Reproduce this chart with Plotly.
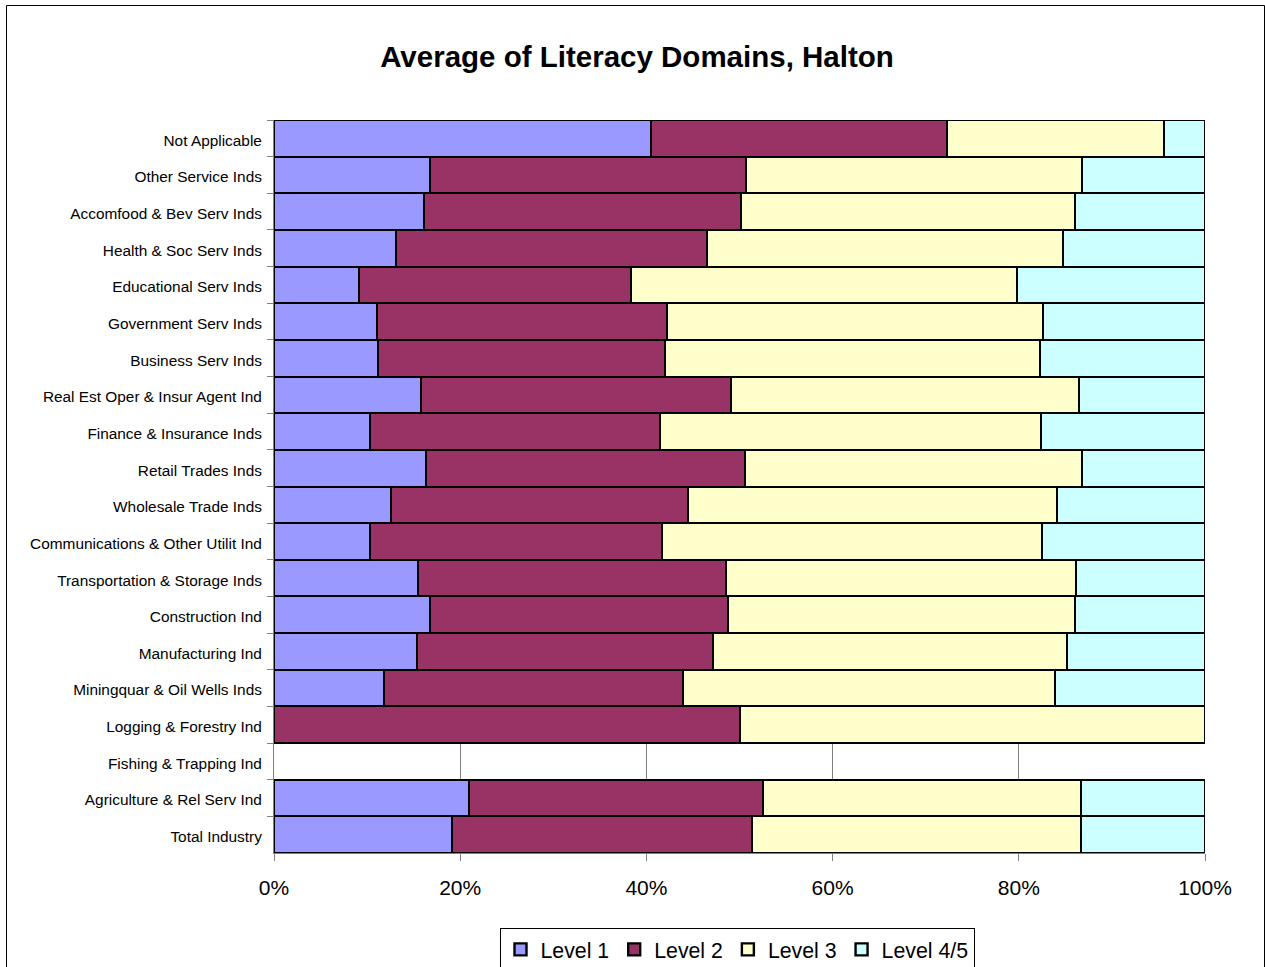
import plotly.graph_objects as go

# Industries, listed top to bottom
industries = [
    "Not Applicable", "Other Service Inds", "Accomfood & Bev Serv Inds",
    "Health & Soc Serv Inds", "Educational Serv Inds", "Government Serv Inds",
    "Business Serv Inds", "Real Est Oper & Insur Agent Ind", "Finance & Insurance Inds",
    "Retail Trades Inds", "Wholesale Trade Inds", "Communications & Other Utilit Ind",
    "Transportation & Storage Inds", "Construction Ind", "Manufacturing Ind",
    "Miningquar & Oil Wells Inds", "Logging & Forestry Ind", "Fishing & Trapping Ind",
    "Agriculture & Rel Serv Ind", "Total Industry",
]

# Share of each literacy level (%)
level1 = [40.5, 16.8, 16.1, 13.1, 9.1, 11.1, 11.2, 15.8, 10.3, 16.3,
          12.6, 10.3, 15.5, 16.8, 15.4, 11.8, None, None, 20.9, 19.1]
level2 = [31.8, 33.9, 34.1, 33.4, 29.2, 31.1, 30.8, 33.3, 31.2, 34.3,
          31.9, 31.4, 33.0, 32.0, 31.8, 32.1, 50.0, None, 31.6, 32.2]
level3 = [23.3, 36.1, 35.8, 38.2, 41.5, 40.4, 40.3, 37.4, 40.9, 36.2,
          39.6, 40.8, 37.6, 37.2, 38.0, 40.0, 50.0, None, 34.2, 35.4]
level45 = [4.4, 13.2, 14.0, 15.3, 20.2, 17.4, 17.7, 13.5, 17.6, 13.2,
           15.9, 17.5, 13.9, 14.0, 14.8, 16.1, None, None, 13.3, 13.3]

# Percentage axis ticks
x_ticks = [0, 20, 40, 60, 80, 100]
x_tick_labels = ["0%", "20%", "40%", "60%", "80%", "100%"]

series = [
    ("Level 1", level1, "#9999FF"),
    ("Level 2", level2, "#993366"),
    ("Level 3", level3, "#FFFFCC"),
    ("Level 4/5", level45, "#CCFFFF"),
]

fig = go.Figure()
for name, vals, color in series:
    fig.add_trace(go.Bar(
        y=industries, x=vals, name=name, orientation="h",
        marker=dict(color=color, line=dict(color="black", width=2.4)),
        hoverinfo="x+y+name",
    ))

W, H = 1265, 967
L, R, T, B = 274, 60, 120, 114
pw, ph = W - L - R, H - T - B


def px_x(p):
    return (p - L) / pw


def px_y(p):
    return (H - B - p) / ph


fig.update_layout(
    width=W, height=H,
    margin=dict(l=L, r=R, t=T, b=B, pad=0),
    barmode="stack", bargap=0,
    paper_bgcolor="white", plot_bgcolor="white",
    font=dict(family="Liberation Sans, Arial, sans-serif", color="black"),
    title=dict(
        text="<b>Average of Literacy Domains, Halton</b>",
        x=637 / W, xanchor="center", y=1 - 57 / H, yanchor="middle",
        font=dict(size=29.5, color="black"),
    ),
    xaxis=dict(
        range=[0, 100], tickmode="array", tickvals=x_ticks, ticktext=x_tick_labels,
        tickfont=dict(size=21), ticklabelstandoff=9,
        showgrid=True, gridcolor="#808080", gridwidth=1,
        ticks="outside", ticklen=7, tickcolor="#808080",
        showline=True, linecolor="#808080", linewidth=1,
        zeroline=False, fixedrange=True,
    ),
    yaxis=dict(
        autorange="reversed", tickfont=dict(size=15.4),
        ticks="outside", ticklen=6, tickcolor="#808080", tickson="boundaries",
        showline=True, linecolor="#808080", linewidth=1,
        showgrid=False, fixedrange=True, ticklabelstandoff=8,
        ticklabelshift=-2,
    ),
    legend=dict(
        orientation="h", x=737 / W, xref="container", xanchor="center",
        y=1 - 928 / H, yref="container", yanchor="top",
        font=dict(size=21.3), bordercolor="black", borderwidth=1,
        bgcolor="white", traceorder="normal", itemwidth=30,
        tracegroupgap=0,
    ),
    showlegend=True,
)

# Outer chart frame
fig.add_shape(
    type="rect", xref="paper", yref="paper",
    x0=px_x(6.5), x1=px_x(1264.5), y0=px_y(990), y1=px_y(5.5),
    line=dict(color="black", width=1), fillcolor="rgba(0,0,0,0)", layer="below",
)

fig.write_html("out.html")
